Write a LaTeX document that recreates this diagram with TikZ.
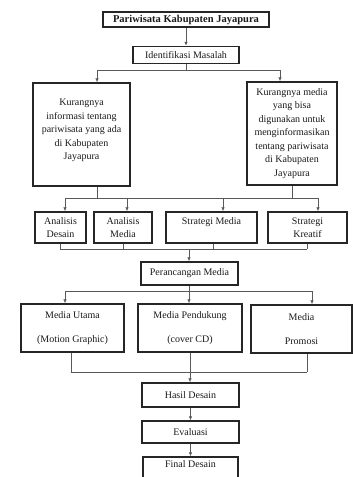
\documentclass[tikz,border=0pt]{standalone}
\usepackage{fontspec}
\setmainfont{Liberation Serif}
\usetikzlibrary{arrows.meta}

\begin{document}
\begin{tikzpicture}[x=1pt,y=-1pt,
	kotak/.style={draw=black!85, line width=1.5pt, inner sep=0pt, align=center, text=black!90, font=\fontsize{10}{13.5}\selectfont},
	garis/.style={black!65, line width=0.7pt},
	panah/.style={garis, -{Latex[length=4pt,width=3.5pt]}}]
			%%%%% START %%%%%
			
			\path[use as bounding box] (0,0) rectangle (353,477);
			
			\node[kotak, minimum width=166pt, minimum height=15pt, font=\fontsize{10.5}{12}\selectfont\bfseries] (judul) at (186,19.5) {Pariwisata Kabupaten Jayapura};
			\node[kotak, minimum width=106pt, minimum height=17pt] (ident) at (186,55) {Identifikasi Masalah};
			
			\node[kotak, minimum width=97pt, minimum height=103pt] (kiri) at (81.5,134.5) {Kurangnya\\informasi tentang\\pariwisata yang ada\\di Kabupaten\\Jayapura\\[-3.5pt]~};
			\node[kotak, minimum width=90pt, minimum height=103pt] (kanan) at (292,133.5) {Kurangnya media\\yang bisa\\digunakan untuk\\menginformasikan\\tentang pariwisata\\di Kabupaten\\Jayapura};
			
			\node[kotak, minimum width=51pt, minimum height=31pt, font=\fontsize{10}{12.5}\selectfont] (desain) at (60.5,227.5) {Analisis\\Desain};
			\node[kotak, minimum width=58pt, minimum height=31pt, font=\fontsize{10}{12.5}\selectfont] (amedia) at (123,227.5) {Analisis\\Media};
			\node[kotak, minimum width=91pt, minimum height=31pt, font=\fontsize{10}{12.5}\selectfont] (smedia) at (211.5,227.5) {Strategi Media\\~};
			\node[kotak, minimum width=79pt, minimum height=31pt, font=\fontsize{10}{12.5}\selectfont] (kreatif) at (307.5,227.5) {Strategi\\Kreatif};
			
			\node[kotak, minimum width=97pt, minimum height=23pt] (rancang) at (189.5,273.5) {Perancangan Media};
			
			\node[kotak, minimum width=103pt, minimum height=48pt, font=\fontsize{10}{24}\selectfont] (utama) at (72.5,328) {Media Utama\\(Motion Graphic)};
			\node[kotak, minimum width=104pt, minimum height=48pt, font=\fontsize{10}{24}\selectfont] (dukung) at (190,328) {Media Pendukung\\(cover CD)};
			\node[kotak, minimum width=101pt, minimum height=48pt, font=\fontsize{10}{24}\selectfont] (promosi) at (301.5,329) {Media\\Promosi};
			
			\node[kotak, minimum width=97pt, minimum height=24pt] (hasil) at (190.5,395) {Hasil Desain};
			\node[kotak, minimum width=97pt, minimum height=22pt] (evaluasi) at (190.5,432) {Evaluasi};
			\node[kotak, minimum width=95pt, minimum height=24pt] (final) at (190.5,469) {Final Desain\\[-4pt]~};
			
			% masalah
			\draw[panah] (judul) -- (ident);
			\coordinate (c1) at (186,70);
			\coordinate (c1l) at (97,70);
			\coordinate (c1r) at (280,70);
			\draw[garis] (ident.south) -- (c1);
			\draw[garis] (c1l) -- (c1r);
			\draw[panah] (c1l) -- (c1l |- kiri.north);
			\draw[panah] (c1r) -- (c1r |- kanan.north);
			
			% analisis dan strategi
			\coordinate (c2l) at (65,198);
			\coordinate (c2r) at (318,198);
			\coordinate (k2) at (97,198);
			\coordinate (n2) at (292,198);
			\draw[garis] (k2 |- kiri.south) -- (k2);
			\draw[garis] (n2 |- kanan.south) -- (n2);
			\draw[garis] (c2l) -- (c2r);
			\foreach \x/\n in {65/desain, 127/amedia, 223/smedia, 318/kreatif}{
				\coordinate (a\n) at (\x,198);
				\draw[panah] (a\n) -- (a\n |- \n.north);
			}
			
			\coordinate (c3l) at (60,249);
			\coordinate (c3r) at (307,249);
			\coordinate (c3) at (189,249);
			\foreach \x/\n in {60/desain, 123/amedia, 213/smedia, 307/kreatif}{
				\coordinate (b\n) at (\x,249);
				\draw[garis] (b\n |- \n.south) -- (b\n);
			}
			\draw[garis] (c3l) -- (c3r);
			\draw[panah] (c3) -- (c3 |- rancang.north);
			
			% perancangan
			\coordinate (c4) at (189,291);
			\coordinate (c4l) at (65,291);
			\coordinate (c4r) at (312,291);
			\draw[garis] (c4 |- rancang.south) -- (c4);
			\draw[garis] (c4l) -- (c4r);
			\draw[panah] (c4l) -- (c4l |- utama.north);
			\draw[panah] (c4) -- (c4 |- dukung.north);
			\draw[panah] (c4r) -- (c4r |- promosi.north);
			
			\coordinate (c5l) at (71,372);
			\coordinate (c5) at (190,372);
			\coordinate (c5r) at (307,372);
			\draw[garis] (c5l |- utama.south) -- (c5l);
			\draw[garis] (c5 |- dukung.south) -- (c5);
			\draw[garis] (c5r |- promosi.south) -- (c5r);
			\draw[garis] (c5l) -- (c5r);
			\draw[panah] (c5) -- (c5 |- hasil.north);
			
			% hasil
			\draw[panah] (hasil) -- (evaluasi);
			\draw[panah] (evaluasi) -- (final);
			
			%%%%% END %%%%%
\end{tikzpicture}
\end{document}
